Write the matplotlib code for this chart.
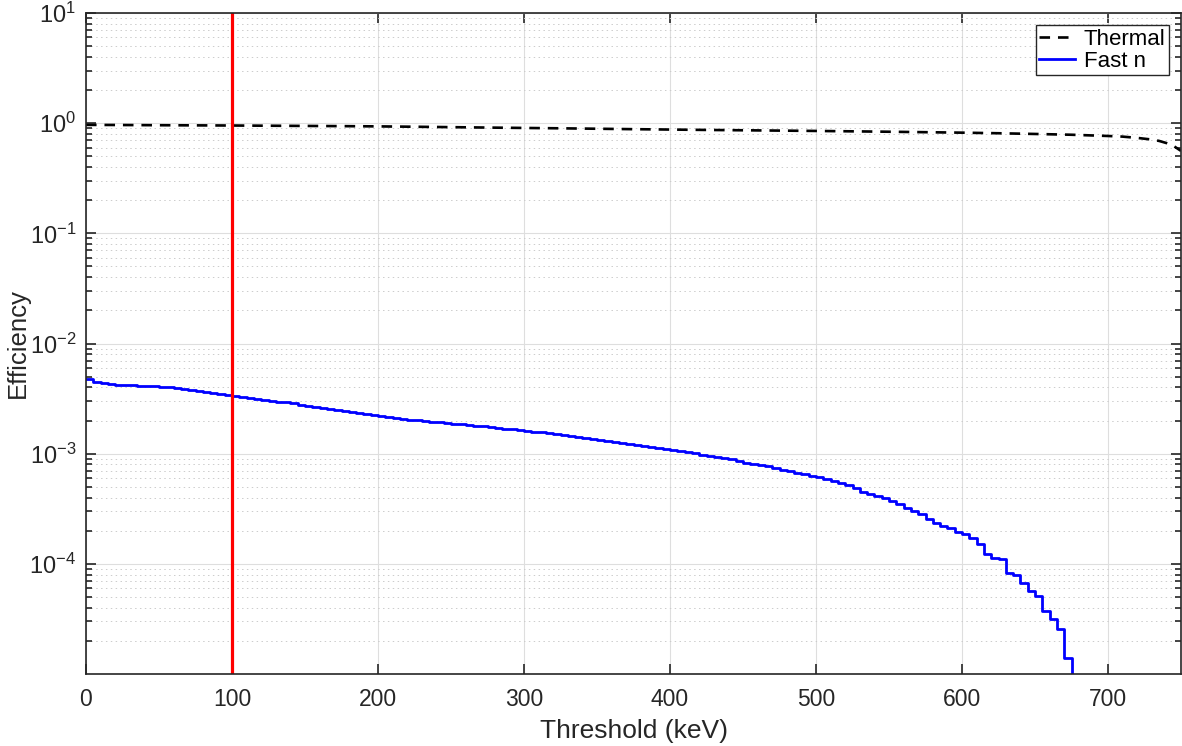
import numpy as np
import matplotlib
matplotlib.use("Agg")
import matplotlib.pyplot as plt
from matplotlib.ticker import LogLocator, NullFormatter, FuncFormatter

plt.rcParams['font.family'] = ['Liberation Sans', 'DejaVu Sans']
plt.rcParams['mathtext.fontset'] = 'custom'
plt.rcParams['mathtext.rm'] = 'Liberation Sans'

# fast neutron efficiency, 5 keV threshold bins (start of bin)
fast_threshold = np.arange(0, 750, 5)
fast_eff = [
    4.8e-3, 4.5e-3, 4.35e-3, 4.28e-3, 4.23e-3, 4.2e-3, 4.17e-3, 4.14e-3, 4.11e-3, 4.09e-3,
    4.05e-3, 4.0e-3, 3.93e-3, 3.86e-3, 3.79e-3, 3.71e-3, 3.64e-3, 3.56e-3, 3.49e-3, 3.40e-3,
    3.32e-3, 3.26e-3, 3.20e-3, 3.14e-3, 3.08e-3, 3.02e-3, 2.97e-3, 2.93e-3, 2.86e-3, 2.79e-3,
    2.72e-3, 2.65e-3, 2.60e-3, 2.53e-3, 2.48e-3, 2.43e-3, 2.37e-3, 2.32e-3, 2.27e-3, 2.23e-3,
    2.19e-3, 2.15e-3, 2.11e-3, 2.07e-3, 2.04e-3, 2.01e-3, 1.97e-3, 1.95e-3, 1.92e-3, 1.89e-3,
    1.87e-3, 1.84e-3, 1.82e-3, 1.80e-3, 1.78e-3, 1.75e-3, 1.72e-3, 1.69e-3, 1.66e-3, 1.63e-3,
    1.61e-3, 1.58e-3, 1.56e-3, 1.53e-3, 1.51e-3, 1.48e-3, 1.46e-3, 1.42e-3, 1.40e-3, 1.37e-3,
    1.33e-3, 1.30e-3, 1.28e-3, 1.26e-3, 1.23e-3, 1.20e-3, 1.18e-3, 1.15e-3, 1.13e-3, 1.11e-3,
    1.09e-3, 1.06e-3, 1.04e-3, 1.01e-3, 9.8e-4, 9.6e-4, 9.4e-4, 9.2e-4, 8.9e-4, 8.6e-4,
    8.3e-4, 8.1e-4, 7.9e-4, 7.65e-4, 7.4e-4, 7.15e-4, 6.9e-4, 6.7e-4, 6.5e-4, 6.3e-4,
    6.1e-4, 5.9e-4, 5.64e-4, 5.45e-4, 5.19e-4, 4.91e-4, 4.51e-4, 4.27e-4, 4.12e-4, 3.98e-4,
    3.71e-4, 3.47e-4, 3.24e-4, 3.01e-4, 2.85e-4, 2.53e-4, 2.36e-4, 2.2e-4, 2.1e-4, 1.94e-4,
    1.85e-4, 1.70e-4, 1.50e-4, 1.24e-4, 1.14e-4, 1.1e-4, 8.3e-5, 8.0e-5, 6.76e-5, 5.67e-5,
    5.1e-5, 3.73e-5, 3.14e-5, 2.55e-5, 1.39e-5, 0, 0, 0, 0, 0,
    0, 0, 0, 0, 0, 0, 0, 0, 0, 0,
]

# thermal neutron efficiency
thermal_threshold = [0, 25, 50, 75, 100, 125, 150, 175, 200, 225, 250, 275, 300, 325, 350,
                     375, 400, 425, 450, 475, 500, 525, 550, 575, 600, 625, 650, 675, 700,
                     710, 720, 730, 735, 740, 745, 750]
thermal_eff = [0.965, 0.962, 0.958, 0.955, 0.952, 0.948, 0.944, 0.94, 0.935, 0.928, 0.92,
               0.912, 0.905, 0.898, 0.89, 0.882, 0.875, 0.868, 0.862, 0.856, 0.85, 0.843,
               0.836, 0.828, 0.82, 0.81, 0.798, 0.785, 0.765, 0.755, 0.735, 0.71, 0.69,
               0.66, 0.62, 0.56]

threshold_cut = 100  # keV
ytick_vals = [1e-4, 1e-3, 1e-2, 1e-1, 1, 10]

fig = plt.figure(figsize=(11.82, 7.46), dpi=100)
ax = fig.add_axes([86/1182, 1-674/746, 1095/1182, 661/746])

ax.plot(thermal_threshold, thermal_eff, color='black', ls=(0, (4, 3)), lw=1.9, label='Thermal')
ax.step(fast_threshold, fast_eff, where='post', color=(0, 0, 1), lw=2.0, label='Fast n')
ax.axvline(threshold_cut, color=(1, 0, 0), lw=2.3)

ax.set_yscale('log', nonpositive='clip')
ax.set_xlim(0, 750)
ax.set_ylim(1e-5, 10)
ax.set_xticks(np.arange(0, 800, 100))
ax.set_yticks(ytick_vals)
ax.yaxis.set_minor_locator(LogLocator(base=10, subs=np.arange(2, 10), numticks=20))
ax.yaxis.set_minor_formatter(NullFormatter())
ax.yaxis.set_major_formatter(FuncFormatter(
    lambda v, p: r'$\mathdefault{10^{%d}}$' % int(round(np.log10(v)))))

ax.grid(True, which='major', color='0.87', lw=0.8, ls='-')
ax.grid(True, which='minor', axis='y', color='0.8', lw=0.7, ls=(0, (1.5, 3.5)))

ax.tick_params(which='both', direction='in', top=True, right=True, colors='0.15',
               labelcolor='0.15')
ax.tick_params(axis='x', labelsize=16.5, pad=10)
ax.tick_params(axis='y', labelsize=17, pad=7)
ax.tick_params(which='major', length=7, width=1.2)
ax.tick_params(which='minor', length=4, width=1.2)
for s in ax.spines.values():
    s.set_color('0.15')
    s.set_linewidth(1.2)

ax.set_xlabel('Threshold (keV)', fontsize=19, color='0.15', labelpad=6)
ax.set_ylabel('Efficiency', fontsize=18.5, color='0.15')
ax.yaxis.set_label_coords(-0.051, 0.5)

leg = ax.legend(loc='upper right', fontsize=16, frameon=True, fancybox=False,
                edgecolor='0.15', framealpha=1, borderpad=0.15, labelspacing=0.05,
                handlelength=1.6, handletextpad=0.4, borderaxespad=0.55)
leg.get_frame().set_linewidth(1.0)

fig.savefig('out.png', dpi=100)
